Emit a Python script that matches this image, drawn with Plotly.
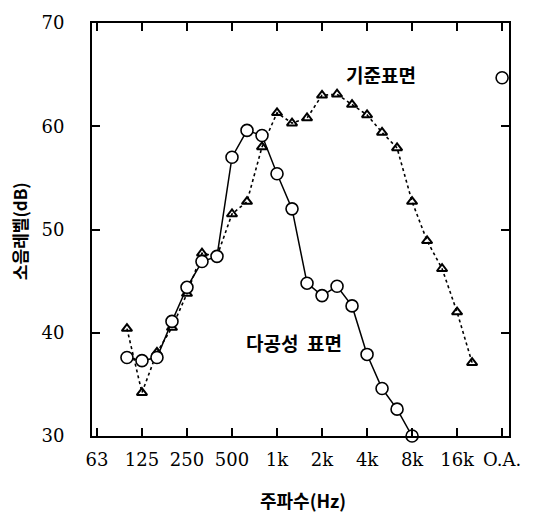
import plotly.graph_objects as go

# 1/3-octave band index (0 = 63 Hz ... 24 = 16 kHz, 27 = O.A.)
tick_idx = [0, 3, 6, 9, 12, 15, 18, 21, 24, 27]
tick_labels = ["63", "125", "250", "500", "1k", "2k", "4k", "8k", "16k", "O.A."]

# 기준표면 (reference surface) - triangles, dotted
ref_idx = [2, 3, 4, 5, 6, 7, 8, 9, 10, 11, 12, 13, 14, 15, 16, 17, 18, 19, 20, 21, 22, 23, 24, 25]
ref_val = [40.4, 34.2, 38.1, 40.5, 43.8, 47.7, 47.4, 51.5, 52.7, 58.0, 61.3, 60.3, 60.8, 63.0,
           63.1, 62.1, 61.1, 59.4, 57.9, 52.7, 48.9, 46.2, 42.0, 37.1]

# 다공성 표면 (porous surface) - circles, solid
por_idx = [2, 3, 4, 5, 6, 7, 8, 9, 10, 11, 12, 13, 14, 15, 16, 17, 18, 19, 20, 21]
por_val = [37.6, 37.3, 37.6, 41.1, 44.4, 46.9, 47.4, 57.0, 59.6, 59.1, 55.4, 52.0, 44.8, 43.6,
           44.5, 42.6, 37.9, 34.6, 32.6, 30.0]
oa_idx = [27]
oa_val = [64.7]

fig = go.Figure()
fig.add_trace(go.Scatter(
    x=ref_idx, y=ref_val, mode="lines+markers",
    line=dict(color="black", width=1.6, dash="dot"),
    marker=dict(symbol="triangle-up-open", size=9, color="black", line=dict(width=2, color="black")),
    cliponaxis=False, showlegend=False))
fig.add_trace(go.Scatter(
    x=por_idx + [None] + oa_idx, y=por_val + [None] + oa_val, mode="lines+markers",
    line=dict(color="black", width=1.5),
    marker=dict(symbol="circle", size=12, color="white", line=dict(width=1.6, color="black")),
    cliponaxis=False, connectgaps=False, showlegend=False))

cjk = "Noto Sans CJK KR"
fig.add_annotation(x=18.9, y=65.0, text="기준표면", showarrow=False,
                   font=dict(family=cjk, size=19, color="black", weight=600))
fig.add_annotation(x=13.1, y=39.1, text="다공성&nbsp; 표면", showarrow=False,
                   font=dict(family=cjk, size=19, color="black", weight=600))
fig.add_annotation(xref="paper", yref="paper", x=0.505, y=0, yanchor="middle", yshift=-64,
                   text="<b>주파수(Hz)</b>", showarrow=False,
                   font=dict(family=cjk, size=18, color="black"))
fig.add_annotation(xref="paper", yref="paper", x=0, y=0.496, xanchor="center", xshift=-73,
                   textangle=-90, text="<b>소음레벨(dB)</b>", showarrow=False,
                   font=dict(family=cjk, size=17, color="black"))

fig.update_layout(
    width=533, height=514,
    margin=dict(l=92, r=17, t=17, b=78),
    plot_bgcolor="white", paper_bgcolor="white",
    xaxis=dict(range=[-0.33, 27.46], tickvals=tick_idx, ticktext=tick_labels,
               ticks="inside", ticklen=8, tickwidth=2, tickcolor="black",
               showline=True, linecolor="black", linewidth=2, mirror="ticks",
               showgrid=False, zeroline=False, ticklabelstandoff=6,
               tickfont=dict(family="DejaVu Serif", size=18, color="black")),
    yaxis=dict(range=[30, 70], tickvals=[30, 40, 50, 60, 70],
               ticks="inside", ticklen=8, tickwidth=2, tickcolor="black",
               showline=True, linecolor="black", linewidth=2, mirror="ticks",
               showgrid=False, zeroline=False, ticklabelstandoff=22,
               tickfont=dict(family="DejaVu Serif", size=18, color="black")),
)
fig.write_html("out.html")
